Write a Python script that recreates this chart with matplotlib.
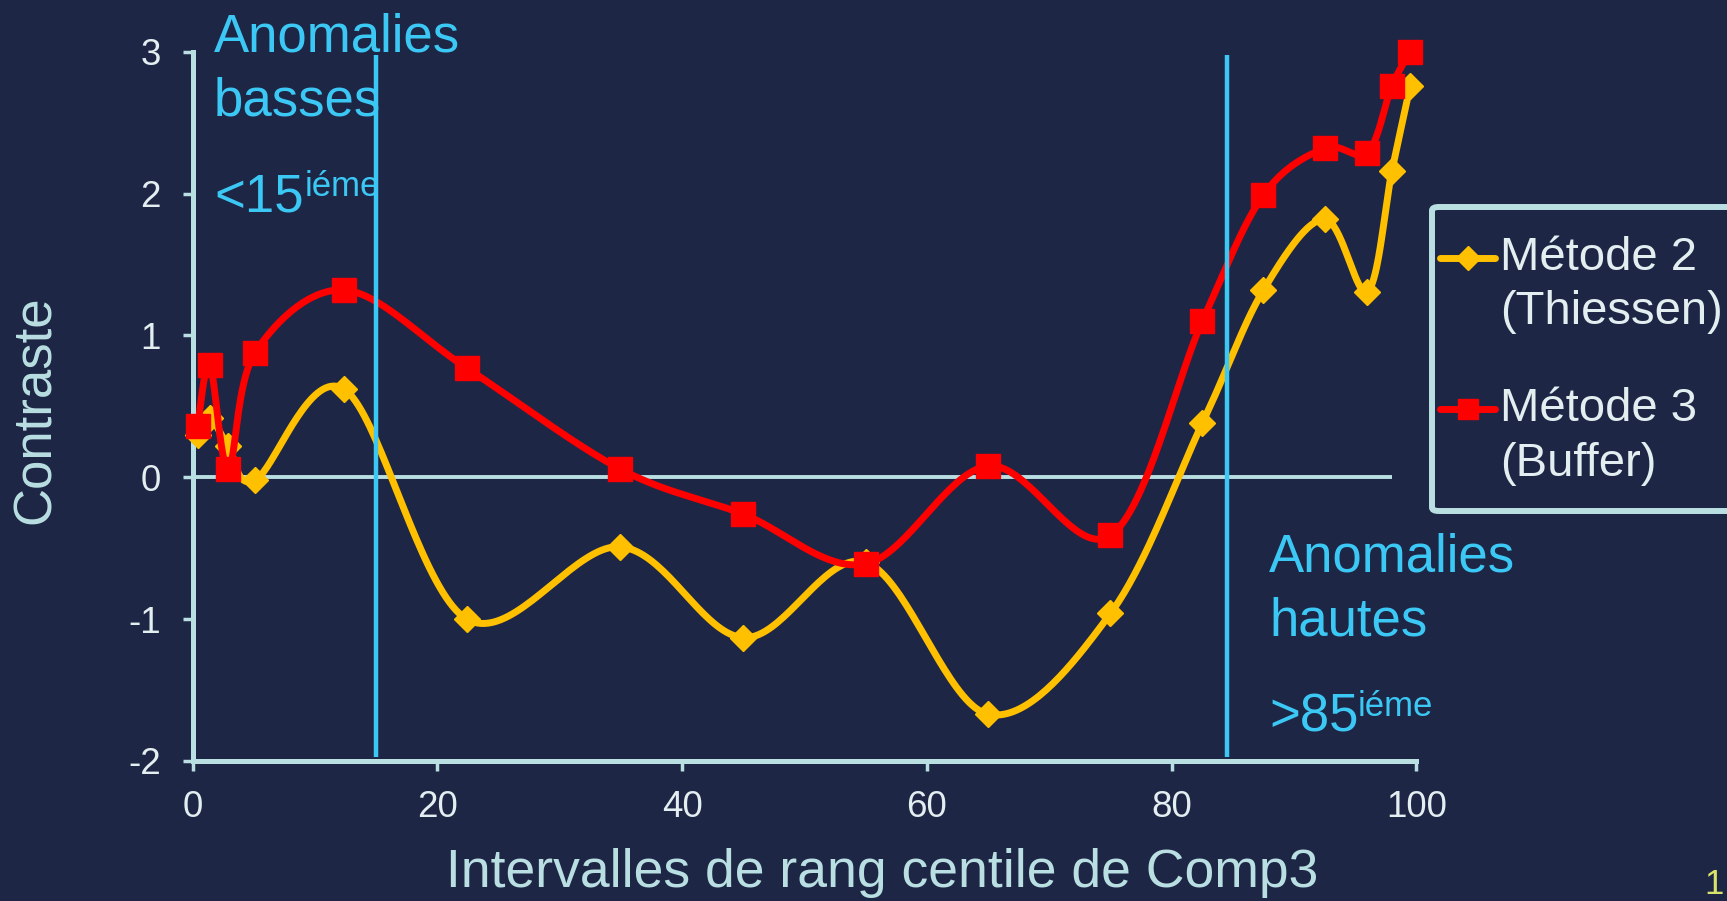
import numpy as np
import matplotlib
matplotlib.use("Agg")
import matplotlib.pyplot as plt
from matplotlib.lines import Line2D
from matplotlib.patches import FancyBboxPatch

plt.rcParams['font.family'] = ['Liberation Sans', 'DejaVu Sans']
plt.rcParams['axes.unicode_minus'] = False

# ---------------- data ----------------
x_m2 = [0.4, 1.4, 2.9, 5.1, 12.4, 22.4, 34.9, 45.0, 55.0, 65.0, 75.0, 82.5, 87.5, 92.5, 96.0, 98.0, 99.5]
y_m2 = [0.30, 0.42, 0.22, -0.02, 0.62, -1.00, -0.49, -1.13, -0.60, -1.67, -0.96, 0.38, 1.32, 1.82, 1.31, 2.16, 2.76]

x_m3 = [0.4, 1.4, 2.9, 5.1, 12.4, 22.4, 34.9, 45.0, 55.0, 65.0, 75.0, 82.5, 87.5, 92.5, 96.0, 98.0, 99.5]
y_m3 = [0.36, 0.79, 0.06, 0.88, 1.32, 0.77, 0.06, -0.26, -0.61, 0.08, -0.41, 1.10, 1.99, 2.32, 2.29, 2.76, 3.00]

series_names = ["Métode 2\n(Thiessen)", "Métode 3\n(Buffer)"]
x_ticks = [0, 20, 40, 60, 80, 100]
y_ticks = [-2, -1, 0, 1, 2, 3]
low_threshold = 15
high_threshold = 84.5

W, H = 1727, 901
BG = '#1e2646'
GOLD = '#ffc000'
RED = '#ff0000'
CYAN = '#3cc8f4'
AXC = '#b9dfe2'
TXT = '#e2eef0'


def smooth(xs, ys, steps=40):
    """Excel-like smoothed line (Catmull-Rom as cubic Bezier)."""
    p = np.column_stack([xs, ys]).astype(float)
    n = len(p)
    out = []
    t = np.linspace(0, 1, steps)[:, None]
    for i in range(n - 1):
        p0 = p[i]
        p3 = p[i + 1]
        pm = p[i - 1] if i > 0 else p[i]
        pp = p[i + 2] if i + 2 < n else p[i + 1]
        c1 = p0 + (p3 - pm) / 6.0
        c2 = p3 - (pp - p0) / 6.0
        seg = ((1 - t) ** 3) * p0 + 3 * ((1 - t) ** 2) * t * c1 + 3 * (1 - t) * t ** 2 * c2 + t ** 3 * p3
        out.append(seg if i == 0 else seg[1:])
    s = np.vstack(out)
    return s[:, 0], s[:, 1]


fig = plt.figure(figsize=(W / 100, H / 100), dpi=100)
fig.patch.set_facecolor(BG)

def fx(px):
    return px / W

def fy(py):
    return 1 - py / H

ax_l, ax_r, ax_t, ax_b = 192.7, 1416.4, 51.8, 761.0
ax = fig.add_axes([fx(ax_l), fy(ax_b), (ax_r - ax_l) / W, (ax_b - ax_t) / H])
ax.set_facecolor('none')
ax.set_xlim(0, 100)
ax.set_ylim(-2, 3)

# zero line
ax.hlines(0, 0, 98, color=AXC, lw=2.8, zorder=2)

# series
sx, sy = smooth(x_m2, y_m2)
ax.plot(sx, sy, color=GOLD, lw=5, zorder=3, clip_on=False, solid_capstyle='round')
ax.plot(x_m2, y_m2, ls='none', marker='D', ms=13.5, color=GOLD, zorder=4, clip_on=False)

sx, sy = smooth(x_m3, y_m3)
ax.plot(sx, sy, color=RED, lw=5, zorder=5, clip_on=False, solid_capstyle='round')
ax.plot(x_m3, y_m3, ls='none', marker='s', ms=17.5, color=RED, zorder=6, clip_on=False)

# threshold lines
ax.vlines([low_threshold, high_threshold], -1.97, 2.98, color=CYAN, lw=3.2, zorder=7)

for side in ['top', 'right']:
    ax.spines[side].set_visible(False)
for side in ['left', 'bottom']:
    ax.spines[side].set_color(AXC)
    ax.spines[side].set_linewidth(3.6)
ax.set_xticks(x_ticks)
ax.set_yticks(y_ticks)
ax.tick_params(axis='both', direction='out', length=7, width=2.5, color=AXC,
               labelcolor=TXT, labelsize=26.5)
ax.tick_params(axis='y', pad=16)
ax.tick_params(axis='x', pad=14)

# axis labels
fig.text(fx(36), fy(410), "Contraste", rotation=90, ha='center', va='center',
         fontsize=38, color=AXC)
fig.text(fx(882), fy(873), "Intervalles de rang centile de Comp3", ha='center', va='center',
         fontsize=38.5, color=AXC)

# annotations
fig.text(fx(214), fy(38), "Anomalies", ha='left', va='center', fontsize=38, color=CYAN)
fig.text(fx(214), fy(101), "basses", ha='left', va='center', fontsize=38, color=CYAN)
fig.text(fx(214), fy(198), "<15", ha='left', va='center', fontsize=38, color=CYAN)
fig.text(fx(305), fy(186), "iéme", ha='left', va='center', fontsize=25, color=CYAN)

fig.text(fx(1269), fy(558), "Anomalies", ha='left', va='center', fontsize=38, color=CYAN)
fig.text(fx(1269), fy(621), "hautes", ha='left', va='center', fontsize=38, color=CYAN)
fig.text(fx(1269), fy(718), ">85", ha='left', va='center', fontsize=38, color=CYAN)
fig.text(fx(1358), fy(706), "iéme", ha='left', va='center', fontsize=25, color=CYAN)

# legend (manual)
box = FancyBboxPatch((fx(1432), fy(511)), fx(1760) - fx(1432), fy(207) - fy(511),
                     boxstyle='round,pad=0,rounding_size=0.004', transform=fig.transFigure,
                     facecolor='none', edgecolor=AXC, lw=4.3, zorder=1)
fig.patches.append(box)
leg_items = [(GOLD, 'D', 12, 257.5, series_names[0]), (RED, 's', 14, 409.5, series_names[1])]
for col, mk, ms, yc, label in leg_items:
    fig.add_artist(Line2D([fx(1440), fx(1495)], [fy(yc), fy(yc)], transform=fig.transFigure,
                          color=col, lw=5, solid_capstyle='round'))
    fig.add_artist(Line2D([fx(1467.5)], [fy(yc)], transform=fig.transFigure,
                          color=col, marker=mk, ms=ms, ls='none'))
    l1, l2 = label.split("\n")
    fig.text(fx(1500), fy(yc), l1, ha='left', va='center', fontsize=34, color=TXT)
    fig.text(fx(1500), fy(yc + 55), l2, ha='left', va='center', fontsize=34, color=TXT)

# page number
fig.text(fx(1714), fy(884), "1", ha='center', va='center', fontsize=25, color='#d8e36a')

fig.savefig("out.png", dpi=100, facecolor=BG)
